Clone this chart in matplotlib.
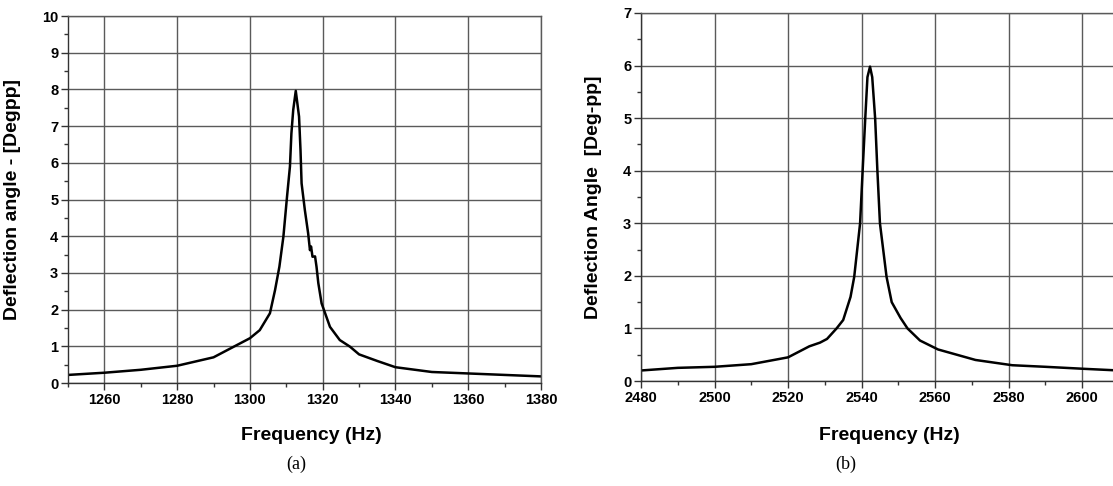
import matplotlib.pyplot as plt
from matplotlib.ticker import MultipleLocator

plt.rcParams["font.family"] = ["Liberation Sans", "DejaVu Sans"]

# %% data
freq_a = [1250, 1260, 1270, 1280, 1290, 1295, 1300, 1302.7, 1305.5, 1306.9,
          1308.1, 1309.2, 1310.2, 1311.0, 1311.4, 1311.9, 1312.6, 1313.5,
          1313.9, 1314.2, 1315.1, 1316.0, 1316.5, 1316.8, 1317.2, 1317.9,
          1318.3, 1318.8, 1319.7, 1322.0, 1324.7, 1327.5, 1330, 1335, 1340,
          1350, 1360, 1370, 1380]
amp_a = [0.22, 0.28, 0.36, 0.47, 0.70, 0.96, 1.22, 1.44, 1.9, 2.53,
         3.17, 3.99, 5.08, 5.9, 6.8, 7.44, 7.96, 7.26,
         6.35, 5.44, 4.71, 4.08, 3.62, 3.72, 3.44, 3.45,
         3.17, 2.72, 2.17, 1.53, 1.17, 0.99, 0.78, 0.6, 0.43,
         0.30, 0.26, 0.22, 0.18]

freq_b = [2480, 2490, 2500, 2510, 2520, 2525.8, 2528.7, 2530.6, 2533.2,
          2535.0, 2537.0, 2538.0, 2539.6, 2540.3, 2541.0, 2541.6, 2542.3,
          2542.9, 2543.7, 2544.3, 2545.0, 2546.8, 2548.2, 2550.6, 2552.5,
          2555.9, 2560.8, 2571, 2581, 2590, 2601, 2610]
amp_b = [0.20, 0.25, 0.27, 0.32, 0.45, 0.66, 0.73, 0.80, 1.0,
         1.16, 1.6, 1.98, 3.0, 4.01, 4.99, 5.78, 5.98,
         5.78, 4.99, 4.01, 3.0, 1.98, 1.5, 1.2, 1.0,
         0.77, 0.60, 0.40, 0.30, 0.27, 0.23, 0.20]

grid_col = "#5a5a5a"


def style_axis(ax, xlim, ylim, ylabel, label_x, xlabel_pos):
    ax.set_xlim(*xlim)
    ax.set_ylim(*ylim)
    ax.xaxis.set_major_locator(MultipleLocator(20))
    ax.xaxis.set_minor_locator(MultipleLocator(10))
    ax.yaxis.set_major_locator(MultipleLocator(1))
    ax.yaxis.set_minor_locator(MultipleLocator(0.5))
    ax.grid(True, which="major", color=grid_col, linewidth=1.0)
    ax.set_axisbelow(True)
    ax.tick_params(which="major", direction="out", length=5, width=1,
                   color="#333333", labelsize=10.5, pad=2)
    ax.tick_params(which="minor", direction="out", length=3, width=1,
                   color="#333333")
    for lbl in ax.get_xticklabels() + ax.get_yticklabels():
        lbl.set_fontweight("bold")
    for s in ["left", "bottom"]:
        ax.spines[s].set_color("#333333")
        ax.spines[s].set_linewidth(1.0)
    for s in ["top", "right"]:
        ax.spines[s].set_color(grid_col)
        ax.spines[s].set_linewidth(1.0)
    ax.set_ylabel(ylabel, fontsize=14, fontweight="bold")
    ax.yaxis.set_label_coords(label_x, 0.5)
    ax.set_xlabel("Frequency (Hz)", fontsize=14, fontweight="bold")
    ax.xaxis.set_label_coords(*xlabel_pos)


fig = plt.figure(figsize=(11.13, 4.86), dpi=100)

# %% (a)
ax1 = fig.add_axes([68 / 1113, 1 - 383 / 486, 473 / 1113, 367 / 486])
ax1.plot(freq_a, amp_a, color="black", linewidth=1.8)
style_axis(ax1, (1250, 1380), (0, 10), "Deflection angle - [Degpp]",
           -0.099, (0.514, -0.12))

# %% (b)
ax2 = fig.add_axes([641 / 1113, 1 - 381 / 486, 472 / 1113, 368 / 486])
ax2.plot(freq_b, amp_b, color="black", linewidth=1.8)
style_axis(ax2, (2480, 2608.4), (0, 7), "Deflection Angle  [Deg-pp]",
           -0.083, (0.527, -0.125))
ax2.spines["right"].set_visible(False)

fig.text(296 / 1113, 1 - 464 / 486, "(a)", ha="center", va="center",
         fontsize=13, family=["Liberation Serif", "DejaVu Serif"])
fig.text(846 / 1113, 1 - 464 / 486, "(b)", ha="center", va="center",
         fontsize=13, family=["Liberation Serif", "DejaVu Serif"])

fig.savefig("out.png", dpi=100)
